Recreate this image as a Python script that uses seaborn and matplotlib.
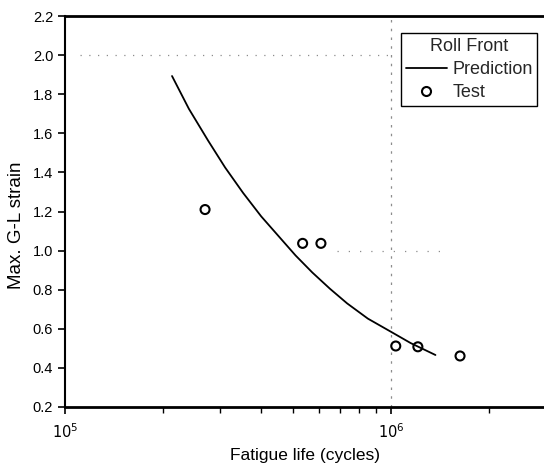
import matplotlib
matplotlib.use("Agg")
import matplotlib.pyplot as plt
import seaborn as sns
import pandas as pd
from matplotlib.lines import Line2D

sns.set_theme(style="ticks")
plt.rcParams['font.family'] = ['Liberation Sans', 'DejaVu Sans']

# Prediction curve
pred_life = [2.13e5, 2.4e5, 2.75e5, 3.1e5, 3.52e5, 4.0e5, 4.5e5, 5.1e5,
             5.74e5, 6.5e5, 7.34e5, 8.5e5, 1.0e6, 1.15e6, 1.37e6]
pred_strain = [1.893, 1.725, 1.562, 1.425, 1.295, 1.175, 1.078, 0.975,
               0.888, 0.805, 0.730, 0.652, 0.585, 0.527, 0.466]

# Test points
test_life = [2.69e5, 5.36e5, 6.1e5, 1.035e6, 1.21e6, 1.63e6]
test_strain = [1.21, 1.037, 1.037, 0.512, 0.508, 0.461]

xlabel = "Fatigue life (cycles)"
ylabel = "Max. G-L strain"
legend_title = "Roll Front"
series_labels = ["Prediction", "Test"]
yticks = [0.2, 0.4, 0.6, 0.8, 1.0, 1.2, 1.4, 1.6, 1.8, 2.0, 2.2]

pred_df = pd.DataFrame({"life": pred_life, "strain": pred_strain})
test_df = pd.DataFrame({"life": test_life, "strain": test_strain})

fig = plt.figure(figsize=(5.44, 4.67), dpi=100)
ax = fig.add_axes([65/544, 60/467, 1 - 65/544, 391/467])

# faint scanned grid remnants
ax.axhline(2.0, xmin=15/479, xmax=326/479, color="0.55", lw=0.9, ls=(0, (1, 6)), zorder=0)
ax.axhline(1.0, xmin=272/479, xmax=379/479, color="0.55", lw=0.9, ls=(0, (1, 8)), zorder=0)
ax.axvline(1e6, color="0.55", lw=0.9, ls=(0, (2, 5)), zorder=0)

sns.lineplot(data=pred_df, x="life", y="strain", ax=ax, color="black",
             lw=1.3, sort=False, estimator=None)
sns.scatterplot(data=test_df, x="life", y="strain", ax=ax, marker="o",
                facecolor="none", edgecolor="black", linewidth=1.5, s=42, zorder=3)

ax.set_xscale("log")
ax.set_xlim(1e5, 2.95e6)
ax.set_ylim(0.2, 2.2)
ax.set_yticks(yticks)
ax.set_yticklabels([f"{v:.1f}" for v in yticks])
ax.set_xticks([1e5, 1e6])
ax.set_xticklabels([r"$10^5$", r"$10^6$"])

ax.tick_params(axis="both", which="major", direction="out", length=5, width=1.2,
               labelsize=10.5, color="black", labelcolor="black")
ax.tick_params(axis="x", which="minor", direction="out", length=4, width=1.0, color="black")
ax.tick_params(axis="x", which="major", pad=6)

for side in ["left", "bottom", "top"]:
    ax.spines[side].set_color("black")
ax.spines["left"].set_linewidth(1.5)
ax.spines["bottom"].set_linewidth(2.0)
ax.spines["top"].set_linewidth(2.0)
ax.spines["top"].set_visible(True)
ax.spines["right"].set_visible(False)

ax.set_xlabel(xlabel, fontsize=12.5, color="black")
ax.set_ylabel(ylabel, fontsize=13.5, color="black")
ax.xaxis.set_label_coords(0.5, -0.106)
ax.yaxis.set_label_coords(-0.102, 0.465)
ax.yaxis.label.set_va("center")

handles = [Line2D([0], [0], color="black", lw=1.3),
           Line2D([0], [0], marker="o", ls="none", mfc="none", mec="black", mew=1.5, ms=6.5)]
leg = ax.legend(handles, series_labels, title=legend_title, loc="upper left",
                bbox_to_anchor=(336/479, 374/391), fontsize=13, title_fontsize=13,
                frameon=True, fancybox=False, edgecolor="black", framealpha=1,
                borderaxespad=0, borderpad=0.25, handlelength=2.3, handletextpad=0.3,
                labelspacing=0.35)
leg.get_frame().set_linewidth(1.0)

fig.savefig("out.png", dpi=100)
